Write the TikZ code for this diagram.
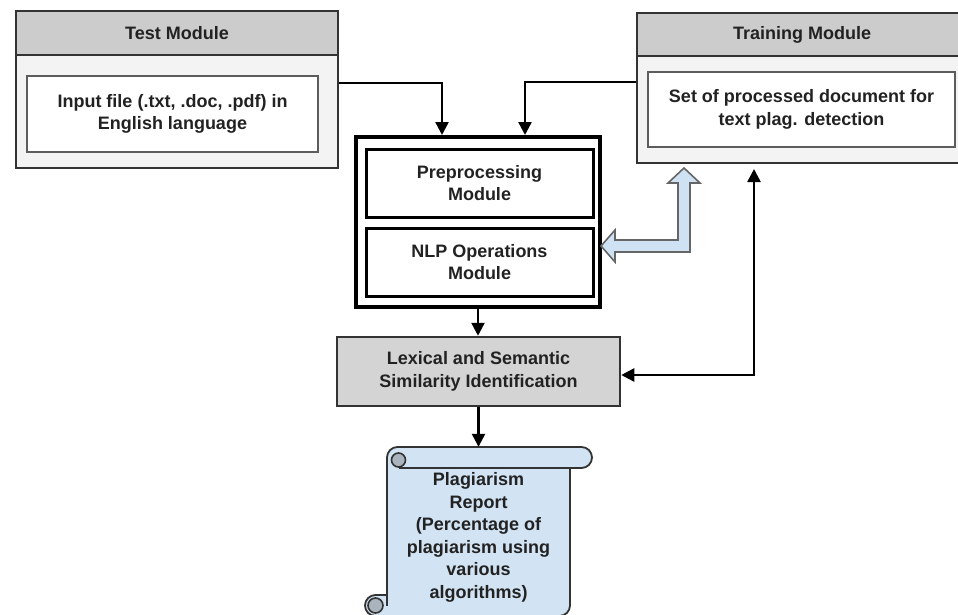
\documentclass[tikz,border=0pt]{standalone}
\usepackage{fontspec}
\setmainfont{Liberation Sans}
\usetikzlibrary{arrows.meta}

\definecolor{headgray}{HTML}{CCCCCC}
\definecolor{panelgray}{HTML}{F3F3F3}
\definecolor{lexgray}{HTML}{D4D4D4}
\definecolor{scrollblue}{HTML}{D2E3F3}
\definecolor{arrowblue}{HTML}{CFE2F3}
\definecolor{curlgray}{HTML}{A9B4BF}
\definecolor{edge}{HTML}{333333}
\definecolor{txt}{HTML}{222222}

\begin{document}
\begin{tikzpicture}[x=1pt,y=-1pt,
  lbl/.style={font=\bfseries\fontsize{18}{22.5}\selectfont, text=txt, align=center},
  box/.style={draw=edge, line width=2pt, inner sep=0pt, lbl},
  panel/.style={box, fill=panelgray},
  header/.style={box, fill=headgray},
  whitebox/.style={draw=edge!80, line width=2pt, fill=white, inner sep=0pt, lbl},
  heavybox/.style={draw=black, line width=4pt, fill=white, inner sep=0pt},
  subbox/.style={draw=black, line width=3pt, fill=white, inner sep=0pt, lbl},
  tip/.style={Triangle[width=13pt,length=13pt]},
  conn/.style={draw=black, line width=2.4pt, -{Triangle[width=13pt,length=13pt]}},
  twoway/.style={draw=black, line width=2.4pt, {Triangle[width=13pt,length=13pt]}-{Triangle[width=13pt,length=13pt]}},
  scrollshape/.style={draw=edge, line width=1.8pt, fill=scrollblue},
  fatarrow/.style={draw=edge!75, line width=1.6pt, fill=arrowblue, line join=miter}]

\clip (0,0) rectangle (958,614);
\fill[white] (0,0) rectangle (958,614);

% Test module panel
\node[panel, minimum width=322pt, minimum height=157pt] (testout) at (177,89.5) {};
\node[header, minimum width=322pt, minimum height=44pt] (testhead) at (177,33) {Test Module};
\node[whitebox, minimum width=291pt, minimum height=76pt] (testin) at (172.5,114)
  {Input file (.txt, .doc, .pdf) in\\English language};

% Training module panel
\node[panel, minimum width=330pt, minimum height=150pt] (trainout) at (802,88) {};
\node[header, minimum width=330pt, minimum height=43pt] (trainhead) at (802,34.5) {Training Module};
\node[whitebox, minimum width=307pt, minimum height=75pt] (trainin) at (801.5,109.5)
  {Set of processed document for\\text plag. detection};

% Processing block
\node[heavybox, minimum width=244pt, minimum height=170pt] (big) at (478,222) {};
\node[subbox, minimum width=227pt, minimum height=68pt] (prep) at (479.5,183) {Preprocessing\\Module};
\node[subbox, minimum width=227pt, minimum height=68pt] (nlp) at (479.5,262) {NLP Operations\\Module};

% Similarity identification
\node[draw=edge, line width=2.5pt, fill=lexgray, inner sep=0pt, lbl,
      minimum width=283pt, minimum height=69pt] (lex) at (478.5,371.5)
  {Lexical and Semantic\\Similarity Identification};

% Report scroll
\node[inner sep=0pt, minimum width=227pt, minimum height=169pt] (report) at (478.5,531.5) {};
\path[scrollshape] (387,457.5) arc[start angle=180, end angle=90, radius=10.5pt]
  -- (581.5,447) arc[start angle=90, end angle=-90, radius=10.5pt]
  -- (570,468) -- (570,605.5) arc[start angle=0, end angle=-90, radius=10.5pt]
  -- (375.5,616) arc[start angle=270, end angle=90, radius=10.5pt]
  -- (387,595) -- cycle;
\draw[draw=edge, line width=1.8pt] (398.5,468) -- (570,468);
\draw[draw=edge, line width=1.6pt, fill=curlgray] (398.5,460) circle[radius=7pt];
\draw[draw=edge, line width=1.8pt] (387,595) -- (387,606);
\draw[draw=edge, line width=1.6pt, fill=curlgray] (375.5,605.5) circle[radius=7.5pt];
\node[lbl] (reporttext) at (478.5,537.5)
  {Plagiarism\\Report\\(Percentage of\\plagiarism using\\various\\algorithms)};

% Connectors
\draw[conn] ([yshift=6.5pt]testout.east) -| ([xshift=-36pt]big.north);
\draw[conn] ([yshift=6pt]trainout.west) -| ([xshift=47pt]big.north);
\draw[conn] (big.south) -- (big.south |- lex.north);
\draw[conn] (lex.south) -- (lex.south |- report.north);
\draw[twoway] ([xshift=-48pt,yshift=-5pt]trainout.south) |- ([yshift=-3.5pt]lex.east);

% Two-way block arrow between the NLP module and the training set
\path[fatarrow] (601,246) -- (615,230) -- (615,240) -- (678,240) -- (678,183)
  -- (668,183) -- (684,168) -- (700,183) -- (690,183) -- (690,252)
  -- (615,252) -- (615,262) -- cycle;

\end{tikzpicture}
\end{document}
